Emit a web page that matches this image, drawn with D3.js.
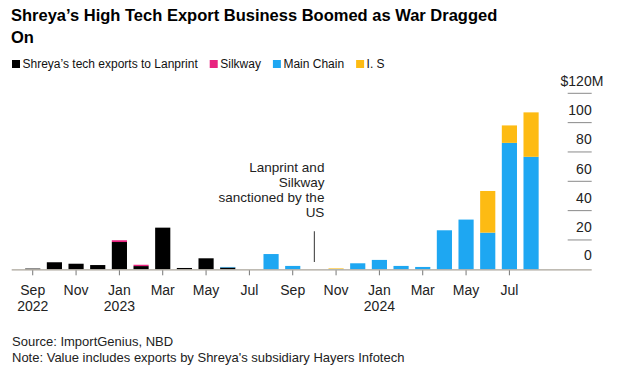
<!DOCTYPE html>
<html><head><meta charset="utf-8">
<script src="https://cdn.jsdelivr.net/npm/d3@7"></script>
<style>
html,body{margin:0;padding:0;background:#fff;}
svg text{font-family:"Liberation Sans",Arial,Helvetica,sans-serif;}
</style></head>
<body><svg id="c" width="620" height="380"></svg>
<script>
// ---- data ----
const months = ["2022-09","2022-10","2022-11","2022-12","2023-01","2023-02","2023-03","2023-04","2023-05","2023-06","2023-07","2023-08",
                "2023-09","2023-10","2023-11","2023-12","2024-01","2024-02","2024-03","2024-04","2024-05","2024-06","2024-07","2024-08"];
const seriesNames = ["Shreya’s tech exports to Lanprint","Silkway","Main Chain","I. S"];
const seriesColors = ["#000000","#e8237f","#1ea7f2","#fdbb13"];
const lanprint  = [0.5,4.8,3.8,2.9,18.6,2.2,28.4,0.9,7.5,1.2,0,0,   0,0,0,0,0,0,0,0,0,0,0,0];
const silkway   = [0,0,0,0,1.2,0.9,0,0,0,0,0,0,                  0,0,0,0,0,0,0,0,0,0,0,0];
const mainChain = [0,0,0,0,0,0,0,0,0,0.4,0,10.4,                 2.3,0,0.2,4.1,6.4,2.3,1.6,26.6,33.9,25.0,86.2,76.7];
const iS        = [0,0,0,0,0,0,0,0,0,0,0,0,                      0,0,0.4,0,0,0,0,0,0,28.4,11.9,30.3];
const xTickLabels = {"2022-09":["Sep","2022"],"2022-11":["Nov"],"2023-01":["Jan","2023"],"2023-03":["Mar"],"2023-05":["May"],"2023-07":["Jul"],
                     "2023-09":["Sep"],"2023-11":["Nov"],"2024-01":["Jan","2024"],"2024-03":["Mar"],"2024-05":["May"],"2024-07":["Jul"]};
const yTicks = [0,20,40,60,80,100,120];
const annotation = {month:"2023-10", lines:["Lanprint and","Silkway","sanctioned by the","US"], from:5, to:26};
const title = ["Shreya’s High Tech Export Business Boomed as War Dragged","On"];
const footer = ["Source: ImportGenius, NBD","Note: Value includes exports by Shreya's subsidiary Hayers Infotech"];

// ---- build ----
const svg = d3.select("#c");
const keys = ["lanprint","silkway","mainChain","iS"];
const table = months.map((m,i)=>({month:m, lanprint:lanprint[i], silkway:silkway[i], mainChain:mainChain[i], iS:iS[i]}));
const stack = d3.stack().keys(keys)(table);

const x = d3.scaleBand().domain(months).range([21.9,541.9]).paddingInner(0.3).paddingOuter(0.15);
const y = d3.scaleLinear().domain([0,120]).range([269.3,93.3]);

// title
svg.append("g").selectAll("text").data(title).join("text")
  .attr("x",11).attr("y",(d,i)=>21+i*22.3)
  .attr("font-size",16.5).attr("font-weight","bold").attr("fill","#000").text(d=>d);

// legend
const lg = svg.append("g").attr("transform","translate(12,68)");
let lx = 0;
seriesNames.forEach((n,i)=>{
  const g = lg.append("g").attr("transform",`translate(${lx},0)`);
  g.append("rect").attr("x",0).attr("y",-8).attr("width",8).attr("height",8).attr("fill",seriesColors[i]);
  const t = g.append("text").attr("x",10.5).attr("y",0).attr("font-size",12).attr("fill","#111").text(n);
  lx += 10.5 + t.node().getComputedTextLength() + 12;
});

// y axis (right side short ticks with labels above)
const ya = svg.append("g");
yTicks.forEach(v=>{
  if(v>0) ya.append("line").attr("x1",567.7).attr("x2",591.7).attr("y1",y(v)).attr("y2",y(v)).attr("stroke","#8a8a8a").attr("stroke-width",1);
  if(v===120){
    ya.append("text").attr("x",591.7).attr("y",y(v)-7.5).attr("text-anchor","end").attr("font-size",14).attr("fill","#222").text("$"+v);
    ya.append("text").attr("x",591.7).attr("y",y(v)-7.5).attr("text-anchor","start").attr("font-size",14).attr("fill","#222").text("M");
  } else {
    ya.append("text").attr("x",591.7).attr("y",y(v)-(v===0?9:7.5)).attr("text-anchor","end").attr("font-size",14).attr("fill","#222").text(v);
  }
});

// bars
svg.append("g").selectAll("g").data(stack).join("g")
  .attr("fill",(d,i)=>seriesColors[i])
  .selectAll("rect").data(d=>d.filter(p=>p[1]-p[0]>0)).join("rect")
  .attr("x",d=>x(d.data.month)).attr("width",x.bandwidth())
  .attr("y",d=>y(d[1])).attr("height",d=>y(d[0])-y(d[1]));

// baseline
svg.append("line").attr("x1",11.7).attr("x2",591.7).attr("y1",y(0)+0.5).attr("y2",y(0)+0.5).attr("stroke","#aaa49a").attr("stroke-width",1.3);

// x ticks & labels
const xa = svg.append("g");
Object.keys(xTickLabels).forEach(m=>{
  const cx = x(m)+x.bandwidth()/2;
  xa.append("line").attr("x1",cx).attr("x2",cx).attr("y1",y(0)+1).attr("y2",y(0)+6).attr("stroke","#777").attr("stroke-width",1);
  xTickLabels[m].forEach((l,j)=>{
    xa.append("text").attr("x",cx).attr("y",295+j*15.7).attr("text-anchor","middle").attr("font-size",14).attr("fill","#222").text(l);
  });
});

// annotation
const ax = x(annotation.month)+x.bandwidth()/2;
svg.append("line").attr("x1",ax).attr("x2",ax).attr("y1",y(annotation.to)).attr("y2",y(annotation.from)).attr("stroke","#555").attr("stroke-width",1.2);
svg.append("g").selectAll("text").data(annotation.lines).join("text")
  .attr("x",ax+10).attr("y",(d,i)=>172+i*15).attr("text-anchor","end").attr("font-size",13.5).attr("fill","#222").text(d=>d);

// footer
svg.append("g").selectAll("text").data(footer).join("text")
  .attr("x",12).attr("y",(d,i)=>346+i*16).attr("font-size",13).attr("fill","#222").text(d=>d);
</script></body></html>
